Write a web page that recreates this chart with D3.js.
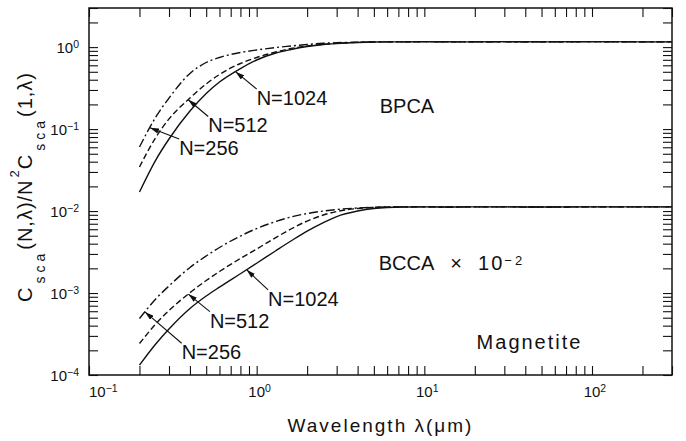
<!DOCTYPE html>
<html>
<head>
<meta charset="utf-8">
<script src="https://cdn.jsdelivr.net/npm/d3@7"></script>
<style>
  body { margin: 0; background: #fff; }
  svg { display: block; font-family: "Liberation Sans", Arial, sans-serif; }
</style>
</head>
<body>
<div id="container"></div>
<script>
// wavelength grid (micron)
const wavelengths = [0.2, 0.25, 0.3, 0.4, 0.5, 0.6, 0.8, 1.0, 1.3, 1.6, 2, 2.5, 3, 4, 5, 6, 8, 10, 15, 20, 30, 50, 100, 200, 300];

// BPCA aggregates
const bpca256  = [0.0604, 0.140, 0.239, 0.477, 0.649, 0.747, 0.859, 0.922, 0.989, 1.031, 1.076, 1.113, 1.132, 1.148, 1.157, 1.16, 1.16, 1.165, 1.16, 1.16, 1.165, 1.16, 1.165, 1.16, 1.16];
const bpca512  = [0.0345, 0.0789, 0.133, 0.239, 0.355, 0.463, 0.631, 0.747, 0.871, 0.961, 1.031, 1.082, 1.113, 1.144, 1.157, 1.16, 1.16, 1.165, 1.16, 1.16, 1.165, 1.16, 1.165, 1.16, 1.16];
const bpca1024 = [0.0171, 0.0419, 0.0757, 0.166, 0.272, 0.375, 0.548, 0.696, 0.847, 0.935, 1.017, 1.076, 1.106, 1.138, 1.154, 1.16, 1.16, 1.165, 1.16, 1.16, 1.165, 1.16, 1.165, 1.16, 1.16];

// BCCA aggregates (already multiplied by 10^-2)
const bcca256  = [4.89e-4, 8.45e-4, 1.22e-3, 2.05e-3, 2.83e-3, 3.59e-3, 4.96e-3, 6.12e-3, 7.45e-3, 8.45e-3, 9.33e-3, 1.0e-2, 1.044e-2, 1.089e-2, 1.11e-2, 1.12e-2, 1.125e-2, 1.125e-2, 1.12e-2, 1.125e-2, 1.125e-2, 1.12e-2, 1.125e-2, 1.125e-2, 1.125e-2];
const bcca512  = [2.42e-4, 4.19e-4, 6.12e-4, 1.01e-3, 1.42e-3, 1.83e-3, 2.64e-3, 3.44e-3, 4.75e-3, 6.04e-3, 7.55e-3, 8.95e-3, 9.87e-3, 1.074e-2, 1.11e-2, 1.12e-2, 1.125e-2, 1.125e-2, 1.12e-2, 1.125e-2, 1.125e-2, 1.12e-2, 1.125e-2, 1.125e-2, 1.125e-2];
const bcca1024 = [1.32e-4, 2.39e-4, 3.64e-4, 6.47e-4, 9.19e-4, 1.18e-3, 1.72e-3, 2.31e-3, 3.28e-3, 4.31e-3, 5.70e-3, 7.24e-3, 8.57e-3, 1.0e-2, 1.074e-2, 1.104e-2, 1.12e-2, 1.125e-2, 1.12e-2, 1.125e-2, 1.125e-2, 1.12e-2, 1.125e-2, 1.125e-2, 1.125e-2];

// tick labels
const xLabelTicks = [0.1, 1, 10, 100];
const yLabelTicks = [1e-4, 1e-3, 1e-2, 1e-1, 1];

const series = [
    {key: "bpca256", values: bpca256, dash: "9,3,2,3"},
    {key: "bpca512", values: bpca512, dash: "6,3"},
    {key: "bpca1024", values: bpca1024, dash: null},
    {key: "bcca256", values: bcca256, dash: "9,3,2,3"},
    {key: "bcca512", values: bcca512, dash: "6,3"},
    {key: "bcca1024", values: bcca1024, dash: null}
];

// arrows: tip sits on the curve at wavelength `tip`, tail given in data units
const annotations = [
    {label: "N=1024", key: "bpca1024", tip: 0.748, tail: [1.0, 0.308]},
    {label: "N=512", key: "bpca512", tip: 0.391, tail: [0.514, 0.1425]},
    {label: "N=256", key: "bpca256", tip: 0.231, tail: [0.345, 0.0755]},
    {label: "N=1024", key: "bcca1024", tip: 0.871, tail: [1.17, 1.09e-3]},
    {label: "N=512", key: "bcca512", tip: 0.391, tail: [0.526, 5.93e-4]},
    {label: "N=256", key: "bcca256", tip: 0.2157, tail: [0.357, 2.44e-4]}
];

// set margins and dimensions for chart
const margin = {top: 8, right: 14, bottom: 66, left: 89};
const width = 686 - margin.left - margin.right;
const height = 441 - margin.top - margin.bottom;
const tickLen = 9;

const x = d3.scaleLog().domain([0.1, 300]).range([0, width]);
const y = d3.scaleLog().domain([1e-4, 3]).range([height, 0]);

const root = d3.select("#container")
    .append("svg")
        .attr("width", width + margin.left + margin.right)
        .attr("height", height + margin.top + margin.bottom);

root.append("defs").append("marker")
    .attr("id", "head")
    .attr("viewBox", "0 0 10 6")
    .attr("refX", 10)
    .attr("refY", 3)
    .attr("markerWidth", 9)
    .attr("markerHeight", 5.5)
    .attr("markerUnits", "userSpaceOnUse")
    .attr("orient", "auto")
  .append("path")
    .attr("d", "M0,0L10,3L0,6Z")
    .attr("fill", "#111");

const svg = root.append("g")
    .attr("transform", `translate(${margin.left}, ${margin.top})`);

// inward ticks on all four sides
function styleTicks(g) {
    g.select(".domain").remove();
    g.selectAll(".tick line").attr("stroke", "#111").attr("stroke-width", 1.1);
}
svg.append("g").attr("transform", `translate(0,${height})`)
    .call(d3.axisBottom(x).tickSize(-tickLen).tickFormat("")).call(styleTicks);
svg.append("g")
    .call(d3.axisTop(x).tickSize(-tickLen).tickFormat("")).call(styleTicks);
svg.append("g")
    .call(d3.axisLeft(y).tickSize(-tickLen).tickFormat("")).call(styleTicks);
svg.append("g").attr("transform", `translate(${width},0)`)
    .call(d3.axisRight(y).tickSize(-tickLen).tickFormat("")).call(styleTicks);

// frame
svg.append("rect")
    .attr("width", width)
    .attr("height", height)
    .attr("fill", "none")
    .attr("stroke", "#111")
    .attr("stroke-width", 1.5);

// power-of-ten labels
function powerLabel(sel, v) {
    const e = Math.round(Math.log10(v));
    sel.append("tspan").text("10");
    sel.append("tspan")
        .attr("font-size", 10.5)
        .attr("dy", -5)
        .text(e < 0 ? "\u2212" + (-e) : String(e));
}

xLabelTicks.forEach((v, i) => {
    const t = svg.append("text")
        .attr("y", height + 22)
        .attr("font-size", 15)
        .attr("fill", "#111");
    powerLabel(t, v);
    // centre the "10" on the tick, first label sits against the frame
    const w = t.select("tspan").node().getComputedTextLength();
    t.attr("x", i === 0 ? x(v) : x(v) - w / 2);
});

yLabelTicks.forEach(v => {
    const t = svg.append("text")
        .attr("x", -10)
        .attr("y", y(v) + 6)
        .attr("text-anchor", "end")
        .attr("font-size", 15)
        .attr("fill", "#111");
    powerLabel(t, v);
});

// axis titles
svg.append("text")
    .attr("x", width / 2)
    .attr("y", height + 57)
    .attr("text-anchor", "middle")
    .attr("font-size", 19)
    .attr("letter-spacing", 2)
    .attr("fill", "#111")
    .text("Wavelength \u03bb(\u03bcm)");

const yTitle = svg.append("text")
    .attr("transform", `translate(${32 - margin.left}, ${187 - margin.top}) rotate(-90)`)
    .attr("text-anchor", "middle")
    .attr("font-size", 20)
    .attr("letter-spacing", 1)
    .attr("fill", "#111");
const yTitleParts = [
    {t: "C", shift: 0},
    {t: "sca", shift: 13, sub: true},
    {t: "(N,\u03bb)/N", shift: 0},
    {t: "2", shift: -13, sup: true},
    {t: "C", shift: 0},
    {t: "sca", shift: 13, sub: true},
    {t: "(1,\u03bb)", shift: 0}
];
let prevShift = 0;
yTitleParts.forEach(p => {
    const ts = yTitle.append("tspan")
        .attr("dy", p.shift - prevShift)
        .text(p.t);
    if (p.sub) ts.attr("font-size", 14).attr("letter-spacing", 4).attr("dx", 3);
    if (p.sup) ts.attr("font-size", 13).attr("dx", 2);
    prevShift = p.shift;
});

// line generator
const line = d3.line()
    .x(d => x(d[0]))
    .y(d => y(d[1]))
    .curve(d3.curveMonotoneX);

series.forEach(s => {
    svg.append("path")
        .datum(wavelengths.map((w, i) => [w, s.values[i]]))
        .attr("fill", "none")
        .attr("stroke", "#111")
        .attr("stroke-width", 1.4)
        .attr("stroke-dasharray", s.dash)
        .attr("d", line);
});

// value on a curve at wavelength w (log-log interpolation) for arrow tips
function valueAt(values, w) {
    const i = Math.max(1, d3.bisectLeft(wavelengths, w));
    const t = (Math.log(w) - Math.log(wavelengths[i - 1])) / (Math.log(wavelengths[i]) - Math.log(wavelengths[i - 1]));
    return Math.exp(Math.log(values[i - 1]) + t * (Math.log(values[i]) - Math.log(values[i - 1])));
}

annotations.forEach(a => {
    const s = series.find(d => d.key === a.key);
    const tipV = valueAt(s.values, a.tip);
    svg.append("line")
        .attr("x1", x(a.tail[0]))
        .attr("y1", y(a.tail[1]))
        .attr("x2", x(a.tip))
        .attr("y2", y(tipV))
        .attr("stroke", "#111")
        .attr("stroke-width", 1.1)
        .attr("marker-end", "url(#head)");
    svg.append("text")
        .attr("x", x(a.tail[0]))
        .attr("y", y(a.tail[1]) + 16)
        .attr("font-size", 20)
        .attr("fill", "#111")
        .text(a.label);
});

// panel labels
svg.append("text")
    .attr("x", x(5.42)).attr("y", y(0.158))
    .attr("font-size", 20).attr("fill", "#111")
    .text("BPCA");

const bcca = svg.append("text")
    .attr("x", x(5.35)).attr("y", y(1.91e-3))
    .attr("font-size", 20).attr("fill", "#111");
bcca.append("tspan").text("BCCA");
bcca.append("tspan").attr("dx", 16).text("\u00d7");
bcca.append("tspan").attr("dx", 16).attr("letter-spacing", 2).text("10");
bcca.append("tspan").attr("font-size", 13).attr("dy", -5).attr("letter-spacing", 3).text("\u22122");

svg.append("text")
    .attr("x", x(20.5)).attr("y", y(2.08e-4))
    .attr("font-size", 20).attr("letter-spacing", 2).attr("fill", "#111")
    .text("Magnetite");
</script>
</body>
</html>
